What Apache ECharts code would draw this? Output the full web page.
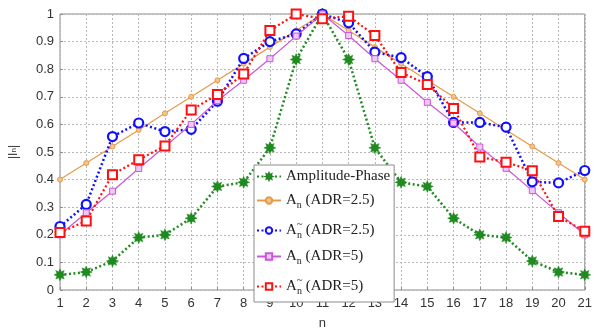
<!DOCTYPE html>
<html>
<head>
<meta charset="utf-8">
<script src="https://cdn.jsdelivr.net/npm/echarts@6/dist/echarts.min.js"></script>
<style>
  html, body { margin: 0; padding: 0; background: #fff; }
  #chart { width: 595px; height: 335px; }
</style>
</head>
<body>
<div id="chart"></div>
<script>
// Element index n = 1..21
const elements = [1,2,3,4,5,6,7,8,9,10,11,12,13,14,15,16,17,18,19,20,21];

// Normalised excitation amplitudes |I_n|
const amplitudePhase = [0.055,0.065,0.105,0.19,0.20,0.26,0.375,0.39,0.515,0.835,1.0,
                        0.835,0.515,0.39,0.375,0.26,0.20,0.19,0.105,0.065,0.055];
const anAdr25 = [0.40,0.46,0.52,0.58,0.64,0.70,0.76,0.82,0.88,0.94,1.0,
                 0.94,0.88,0.82,0.76,0.70,0.64,0.58,0.52,0.46,0.40];
const anTildeAdr25 = [0.23,0.31,0.556,0.605,0.574,0.582,0.684,0.839,0.90,0.928,1.0,
                      0.968,0.862,0.842,0.773,0.607,0.607,0.59,0.392,0.388,0.433];
const anAdr5 = [0.20,0.28,0.358,0.44,0.52,0.60,0.686,0.76,0.838,0.92,1.0,
                0.922,0.838,0.76,0.68,0.605,0.518,0.441,0.36,0.28,0.20];
const anTildeAdr5 = [0.208,0.25,0.418,0.472,0.522,0.652,0.708,0.783,0.94,1.0,0.983,
                     0.992,0.922,0.788,0.745,0.658,0.482,0.463,0.432,0.266,0.213];

const xTicks = elements;
const yTicks = [0,0.1,0.2,0.3,0.4,0.5,0.6,0.7,0.8,0.9,1];

const seriesNames = ['Amplitude-Phase','An25','AnT25','An5','AnT5'];

// eight-point star used for the amplitude-phase markers
function starPath(points, rOut, rIn) {
  let d = '';
  for (let i = 0; i < points * 2; i++) {
    const r = i % 2 === 0 ? rOut : rIn;
    const a = Math.PI * i / points - Math.PI / 2;
    const x = (r * Math.cos(a)).toFixed(2);
    const y = (r * Math.sin(a)).toFixed(2);
    d += (i === 0 ? 'M' : 'L') + x + ',' + y;
  }
  return 'path://' + d + 'Z';
}
const star = starPath(8, 10, 5.5);

const pairs = arr => elements.map((n, i) => [n, arr[i]]);

const chart = echarts.init(document.getElementById('chart'), null, { renderer: 'canvas' });

const legendRich = {
  a: { fontFamily: 'Liberation Serif', fontSize: 15, color: '#222' },
  s: { fontFamily: 'Liberation Serif', fontSize: 10, color: '#222', padding: [9, 0, 0, 0] },
  t: { fontFamily: 'Liberation Serif', fontSize: 11, color: '#222', width: 0.1, padding: [0, 0, 12, 0] }
};

const gridLine = { show: true, lineStyle: { color: '#b8b8b8', type: [2, 2], width: 1 } };
const tickStyle = { show: true, inside: true, length: 3, lineStyle: { color: '#8c8c8c' } };

const option = {
  animation: false,
  backgroundColor: '#fff',
  grid: { left: 57, right: 7, top: 14, bottom: 32, show: true, borderColor: '#8c8c8c', borderWidth: 1, backgroundColor: 'transparent' },
  xAxis: {
    type: 'value', min: 1, max: 21, interval: 1,
    name: 'n', nameLocation: 'middle', nameGap: 27,
    nameTextStyle: { fontFamily: 'Liberation Sans', fontSize: 13, color: '#333' },
    axisLine: { show: false },
    axisTick: tickStyle,
    axisLabel: { fontFamily: 'Liberation Sans', fontSize: 13, color: '#333', margin: 7,
                 formatter: v => xTicks.includes(v) ? String(v) : '' },
    splitLine: gridLine
  },
  yAxis: {
    type: 'value', min: 0, max: 1, interval: 0.1,
    name: '|I{sub|n}|', nameLocation: 'middle', nameGap: 40, nameRotate: 90,
    nameTextStyle: { fontFamily: 'Liberation Sans', fontSize: 12, color: '#333',
                     rich: { sub: { fontFamily: 'Liberation Sans', fontSize: 8, color: '#333' } } },
    axisLine: { show: false },
    axisTick: tickStyle,
    axisLabel: { fontFamily: 'Liberation Sans', fontSize: 13, color: '#333', margin: 6,
                 formatter: v => { const r = Math.round(v * 10) / 10; return yTicks.includes(r) ? String(r) : ''; } },
    splitLine: gridLine
  },
  legend: {
    orient: 'vertical', left: 254, top: 165,
    padding: [4, 4, 6, 2],
    itemGap: 9,
    itemWidth: 24, itemHeight: 8,
    backgroundColor: '#fff', borderColor: '#8c8c8c', borderWidth: 1,
    data: seriesNames,
    formatter: name => ({
      'Amplitude-Phase': '{a|Amplitude-Phase}',
      'An25': '{a|A}{s|n}{a| (ADR=2.5)}',
      'AnT25': '{a|A}{t|~}{s|n}{a| (ADR=2.5)}',
      'An5': '{a|A}{s|n}{a| (ADR=5)}',
      'AnT5': '{a|A}{t|~}{s|n}{a| (ADR=5)}'
    }[name]),
    textStyle: { rich: legendRich }
  },
  series: [
    {
      name: 'Amplitude-Phase', type: 'line', data: pairs(amplitudePhase),
      symbol: star, symbolSize: 12, z: 2,
      lineStyle: { color: '#1f8a1f', width: 2.5, type: [2, 2.5] },
      itemStyle: { color: '#1f8a1f', borderColor: '#1f8a1f', borderWidth: 0.5 }
    },
    {
      name: 'An25', type: 'line', data: pairs(anAdr25),
      symbol: 'circle', symbolSize: 5, z: 3,
      lineStyle: { color: '#e69a48', width: 1.2 },
      itemStyle: { color: '#f2c48f', borderColor: '#e69a48', borderWidth: 1 }
    },
    {
      name: 'AnT25', type: 'line', data: pairs(anTildeAdr25),
      symbol: 'circle', symbolSize: 9, z: 4,
      lineStyle: { color: '#1010ff', width: 2.5, type: [2, 2.5] },
      itemStyle: { color: '#fff', borderColor: '#1010ff', borderWidth: 2.2 }
    },
    {
      name: 'An5', type: 'line', data: pairs(anAdr5),
      symbol: 'rect', symbolSize: 6, z: 5,
      lineStyle: { color: '#cc55dd', width: 1.2 },
      itemStyle: { color: '#f0c8f4', borderColor: '#cc55dd', borderWidth: 1 }
    },
    {
      name: 'AnT5', type: 'line', data: pairs(anTildeAdr5),
      symbol: 'rect', symbolSize: 9, z: 6,
      lineStyle: { color: '#ff1010', width: 2.2, type: [2, 2.5] },
      itemStyle: { color: '#fff', borderColor: '#ff1010', borderWidth: 2 }
    }
  ]
};

chart.setOption(option);
</script>
</body>
</html>
